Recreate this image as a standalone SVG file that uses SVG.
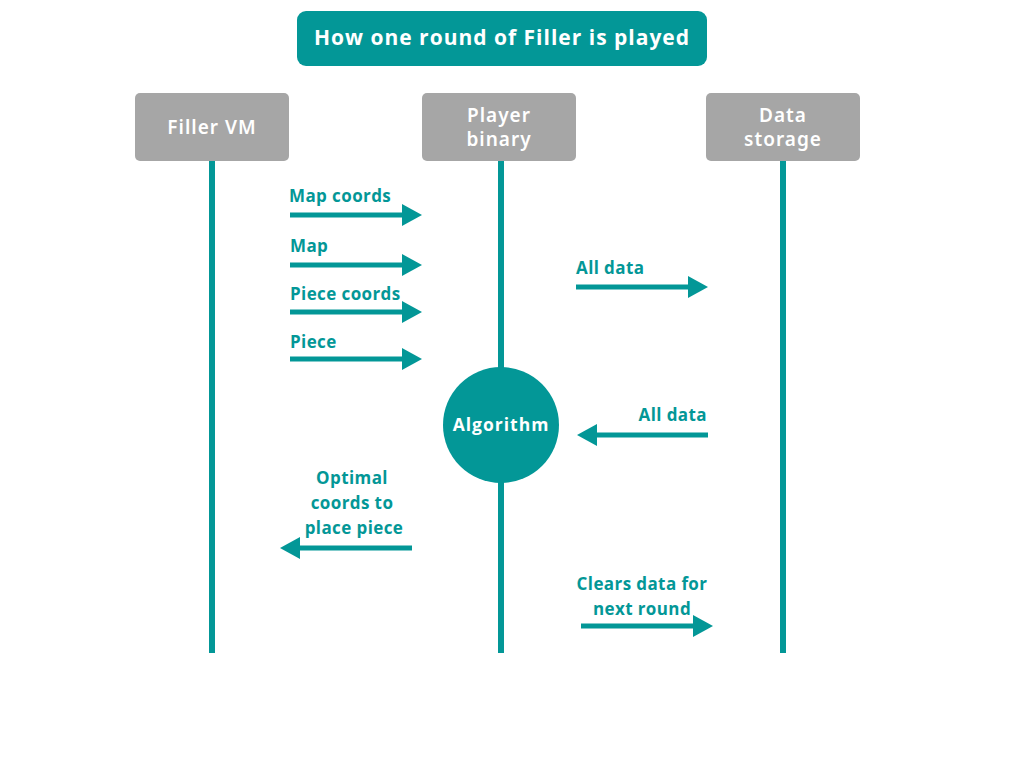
<svg xmlns="http://www.w3.org/2000/svg" width="1024" height="768" viewBox="0 0 1024 768">
<style>
.node rect{fill:#a6a6a6}
.node text{fill:#fff;font-family:"Noto Sans","DejaVu Sans",sans-serif;font-weight:600;font-size:19px;text-anchor:middle;letter-spacing:1px}
.life{stroke:#039797;stroke-width:6}
.arr{stroke:#039797;stroke-width:5;fill:none}
.head{fill:#039797}
.lbl{fill:#039797;font-family:"Open Sans","Lato",sans-serif;font-weight:700;font-size:17px;letter-spacing:0.4px}
</style>
<rect width="1024" height="768" fill="#fff"/>
<g id="title">
<rect x="297" y="11" width="410" height="55" rx="9" fill="#039797"/>
<text x="502" y="45" fill="#fff" font-family="'Open Sans',Lato,sans-serif" font-weight="700" font-size="21" text-anchor="middle" letter-spacing="1">How one round of Filler is played</text>
</g>
<g id="lifelines">
<line class="life" x1="212" y1="160" x2="212" y2="653"/>
<line class="life" x1="501" y1="160" x2="501" y2="653"/>
<line class="life" x1="783" y1="160" x2="783" y2="653"/>
</g>
<g id="filler-vm" class="node">
<rect x="135" y="93" width="154" height="68" rx="5"/>
<text x="212" y="134">Filler VM</text>
</g>
<g id="player-binary" class="node">
<rect x="422" y="93" width="154" height="68" rx="5"/>
<text x="499" y="122">Player</text>
<text x="499" y="146">binary</text>
</g>
<g id="data-storage" class="node">
<rect x="706" y="93" width="154" height="68" rx="5"/>
<text x="783" y="122">Data</text>
<text x="783" y="146">storage</text>
</g>
<g id="algorithm">
<circle cx="501" cy="425" r="58" fill="#039797"/>
<text x="501" y="431" fill="#fff" font-family="'Open Sans',Lato,sans-serif" font-weight="700" font-size="17.5" text-anchor="middle" letter-spacing="1">Algorithm</text>
</g>
<g id="connectors">
<line class="arr" x1="290" y1="215" x2="404" y2="215"/><polygon class="head" points="402,204 422,215 402,226"/>
<text class="lbl" x="289" y="202">Map coords</text>
<line class="arr" x1="290" y1="265" x2="404" y2="265"/><polygon class="head" points="402,254 422,265 402,276"/>
<text class="lbl" x="290" y="252">Map</text>
<line class="arr" x1="290" y1="312" x2="404" y2="312"/><polygon class="head" points="402,301 422,312 402,323"/>
<text class="lbl" x="290" y="300">Piece coords</text>
<line class="arr" x1="290" y1="359" x2="404" y2="359"/><polygon class="head" points="402,348 422,359 402,370"/>
<text class="lbl" x="290" y="348">Piece</text>
<line class="arr" x1="576" y1="287" x2="690" y2="287"/><polygon class="head" points="688,276 708,287 688,298"/>
<text class="lbl" x="576" y="274">All data</text>
<line class="arr" x1="708" y1="435" x2="595" y2="435"/><polygon class="head" points="597,424 577,435 597,446"/>
<text class="lbl" x="707" y="421" text-anchor="end">All data</text>
<line class="arr" x1="412" y1="548" x2="298" y2="548"/><polygon class="head" points="300,537 280,548 300,559"/>
<text class="lbl" x="352" y="484" text-anchor="middle">Optimal</text>
<text class="lbl" x="352" y="509" text-anchor="middle">coords to</text>
<text class="lbl" x="354" y="534" text-anchor="middle">place piece</text>
<line class="arr" x1="581" y1="626" x2="695" y2="626"/><polygon class="head" points="693,615 713,626 693,637"/>
<text class="lbl" x="642" y="590" text-anchor="middle">Clears data for</text>
<text class="lbl" x="642" y="615" text-anchor="middle">next round</text>
</g>
</svg>
